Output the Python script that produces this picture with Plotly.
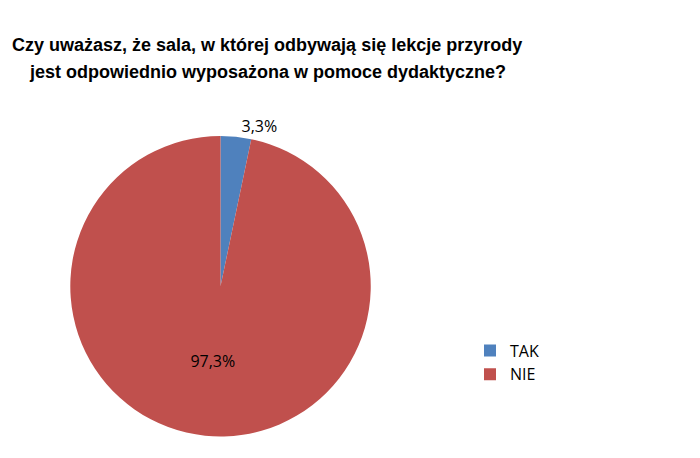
import plotly.graph_objects as go

categories = ["TAK", "NIE"]
values = [3.3, 97.3]
value_labels = ["3,3%", "97,3%"]
colors = ["#4F81BD", "#C0504D"]
title_lines = [
    "Czy uważasz, że sala, w której odbywają się lekcje przyrody",
    "jest odpowiednio wyposażona w pomoce dydaktyczne?",
]

font_body = "Open Sans, Liberation Sans, sans-serif"
font_title = "Liberation Sans, Arial, sans-serif"

fig = go.Figure(go.Pie(
    labels=categories,
    values=values,
    text=value_labels,
    textinfo="text",
    textposition=["outside", "inside"],
    insidetextorientation="horizontal",
    sort=False,
    direction="clockwise",
    rotation=0,
    marker=dict(colors=colors, line=dict(color="white", width=0)),
    textfont=dict(family=font_body, size=16, color="#000000"),
    outsidetextfont=dict(family=font_body, size=16, color="#000000"),
    insidetextfont=dict(family=font_body, size=16, color="#000000"),
    domain=dict(x=[0.0886, 0.5186], y=[0.0645, 0.7205]),
    showlegend=True,
))

annotations = []
for i, line in enumerate(title_lines):
    annotations.append(dict(
        text="<b>" + line + "</b>",
        x=0.37, xref="paper", xanchor="center",
        y=1 - (37 + 27 * i) / 458, yref="paper", yanchor="middle",
        showarrow=False,
        font=dict(family=font_title, size=18, color="#000000"),
    ))

fig.update_layout(
    width=700, height=458,
    paper_bgcolor="white",
    plot_bgcolor="white",
    margin=dict(l=0, r=0, t=0, b=0),
    annotations=annotations,
    legend=dict(
        x=0.66, y=0.226, xanchor="left", yanchor="middle",
        font=dict(family=font_body, size=16, color="#000000"),
        itemwidth=30,
    ),
)

fig.write_html("out.html")
